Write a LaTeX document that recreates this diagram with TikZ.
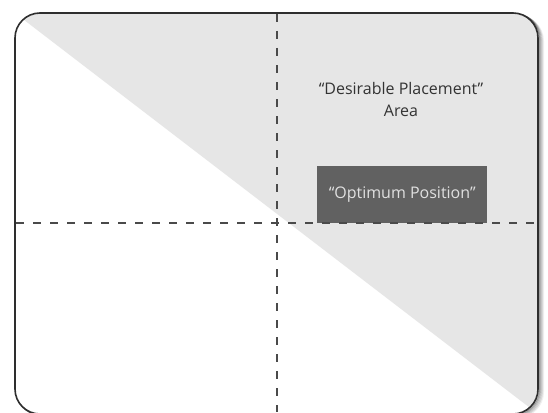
\documentclass[tikz,border=0pt]{standalone}
\usepackage{fontspec}
\setmainfont{Open Sans}
\definecolor{areagrey}{HTML}{E6E6E6}
\definecolor{boxgrey}{HTML}{616161}
\definecolor{dashgrey}{HTML}{4A4A4A}
\definecolor{framegrey}{HTML}{2E2E2E}
\definecolor{txtgrey}{HTML}{333333}
\begin{document}
\begin{tikzpicture}[x=1pt,y=-1pt,
  frame/.style={draw=framegrey,line width=1.6pt,rounded corners=25pt},
  divider/.style={draw=dashgrey,line width=2pt,dash pattern=on 8pt off 9pt},
  label/.style={text=txtgrey,font=\fontsize{16}{22}\selectfont,align=center,inner sep=0pt},
  optbox/.style={fill=boxgrey,text=white!88!black,font=\fontsize{16}{20}\selectfont,minimum width=170pt,minimum height=57pt,inner sep=0pt}]
\useasboundingbox (0,0) rectangle (548,412);
% shadow
\foreach \o/\a in {5/0.06,4/0.09,3/0.13,2/0.18,1/0.25}{
  \draw[black,opacity=\a,line width=2pt,rounded corners=25pt] (15+\o,13+\o*0.6) rectangle (538+\o,414+\o*0.6);
}
\fill[white,rounded corners=25pt] (15,13) rectangle (538,414);
% grey triangle
\begin{scope}
  \clip[rounded corners=25pt] (15,13) rectangle (538,414);
  \fill[areagrey] (15,13) -- (538,13) -- (538,414) -- cycle;
\end{scope}
\coordinate (vt) at (277,14);
\coordinate (vb) at (277,412);
\coordinate (hl) at (16,223);
\coordinate (hr) at (537,223);
\node[optbox,anchor=south west] (opt) at (317,223) {``Optimum Position''};
\draw[divider] (vt) -- (vb);
\draw[divider] (hl) -- (hr);
\node[label] (area) at (401,99) {``Desirable Placement''\\Area};
\draw[frame] (15,13) rectangle (538,414);
\end{tikzpicture}
\end{document}
